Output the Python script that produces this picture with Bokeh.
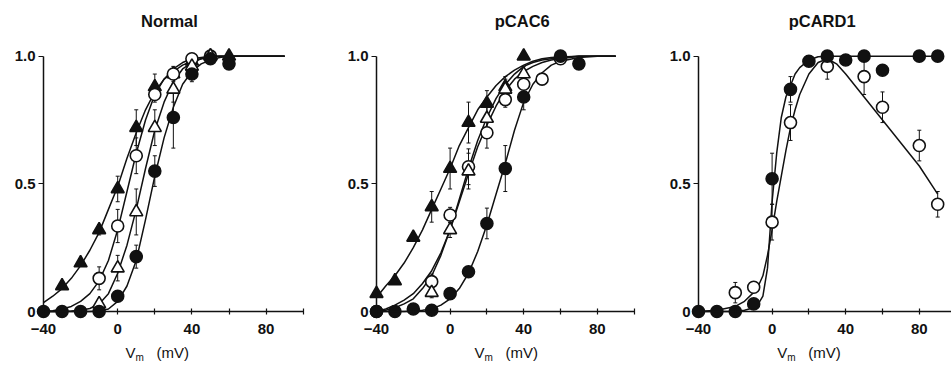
from bokeh.plotting import figure
from bokeh.layouts import row
from bokeh.models import ColumnDataSource, Whisker, TeeHead, FixedTicker, Label, Range1d
from bokeh.embed import file_html
from bokeh.resources import INLINE

FONT = "Liberation Sans"
INK = "#111111"

# ---------------- data ----------------
panel_titles = ["Normal", "pCAC6", "pCARD1"]
x_tick_labels = [-40, 0, 40, 80]
x_minor_ticks = [-20, 20, 60, 100]
y_tick_labels = {0: "0", 0.5: "0.5", 1: "1.0"}

# Panel 1: Normal
n_tri_f_x = [-30, -20, -10, 0, 10, 20, 30, 40, 50, 60]
n_tri_f_y = [0.10, 0.19, 0.32, 0.48, 0.72, 0.88, 0.93, 0.98, 1.0, 1.0]
n_tri_f_e = [0, 0, 0.02, 0.05, 0.07, 0.05, 0.03, 0.02, 0, 0]
n_circ_o_x = [-10, 0, 10, 20, 30, 40, 50]
n_circ_o_y = [0.13, 0.335, 0.61, 0.85, 0.93, 0.99, 1.0]
n_circ_o_e = [0.045, 0.065, 0.07, 0.03, 0.02, 0.01, 0]
n_tri_o_x = [-10, 0, 10, 20, 30, 40, 50]
n_tri_o_y = [0.03, 0.17, 0.39, 0.72, 0.87, 0.96, 1.0]
n_tri_o_e = [0.02, 0.05, 0.09, 0.07, 0.05, 0.02, 0]
n_circ_f_x = [-40, -30, -20, -10, 0, 10, 20, 30, 40, 50, 60]
n_circ_f_y = [0, 0, 0, 0, 0.06, 0.215, 0.55, 0.76, 0.93, 0.99, 0.97]
n_circ_f_e = [0, 0, 0, 0, 0.02, 0.045, 0.06, 0.12, 0.03, 0.01, 0.02]

fit_x = [-40, -35, -30, -25, -20, -15, -10, -5, 0, 5, 10, 15, 20, 25, 30, 35, 40, 45, 50, 55, 60, 70, 80, 90]
n_fit_tri_f = [0.035, 0.06, 0.09, 0.13, 0.18, 0.24, 0.31, 0.40, 0.49, 0.60, 0.70, 0.79, 0.86, 0.91, 0.94, 0.965, 0.98, 0.99, 0.995, 1.0, 1.0, 1.0, 1.0, 1.0]
n_fit_circ_o = [0.0, 0.003, 0.01, 0.02, 0.04, 0.07, 0.12, 0.20, 0.32, 0.47, 0.62, 0.75, 0.85, 0.91, 0.95, 0.975, 0.99, 0.995, 1.0, 1.0, 1.0, 1.0, 1.0, 1.0]
n_fit_tri_o = [0, 0, 0, 0.002, 0.005, 0.012, 0.03, 0.07, 0.15, 0.26, 0.40, 0.56, 0.71, 0.82, 0.90, 0.95, 0.975, 0.99, 1.0, 1.0, 1.0, 1.0, 1.0, 1.0]
n_fit_circ_f = [0, 0, 0, 0, 0, 0, 0.002, 0.01, 0.04, 0.10, 0.20, 0.36, 0.53, 0.68, 0.80, 0.89, 0.94, 0.97, 0.985, 0.995, 1.0, 1.0, 1.0, 1.0]

# Panel 2: pCAC6
c_tri_f_x = [-40, -30, -20, -10, 0, 10, 20, 30, 40]
c_tri_f_y = [0.07, 0.12, 0.29, 0.41, 0.56, 0.74, 0.815, 0.88, 1.0]
c_tri_f_e = [0, 0, 0, 0.06, 0.08, 0.08, 0.05, 0.04, 0]
c_circ_o_x = [-40, -10, 0, 10, 20, 30, 40, 50, 60]
c_circ_o_y = [0, 0.117, 0.378, 0.567, 0.70, 0.83, 0.89, 0.91, 0.99]
c_circ_o_e = [0, 0.03, 0.03, 0.07, 0.06, 0.03, 0.03, 0.02, 0]
c_tri_o_x = [-10, 0, 10, 20, 30, 40]
c_tri_o_y = [0.074, 0.32, 0.55, 0.756, 0.87, 0.93]
c_tri_o_e = [0.02, 0.03, 0.07, 0.07, 0.04, 0.03]
c_circ_f_x = [-40, -30, -20, -10, 0, 10, 20, 30, 40, 60, 70]
c_circ_f_y = [0, 0, 0.01, 0.005, 0.07, 0.156, 0.345, 0.56, 0.84, 1.0, 0.97]
c_circ_f_e = [0, 0, 0, 0, 0.01, 0.02, 0.06, 0.09, 0.05, 0, 0]

c_fit_tri_f = [0.055, 0.10, 0.14, 0.19, 0.25, 0.32, 0.40, 0.48, 0.56, 0.65, 0.72, 0.79, 0.84, 0.885, 0.92, 0.945, 0.965, 0.98, 0.99, 0.995, 0.997, 1.0, 1.0, 1.0]
c_fit_circ_o = [0.0, 0.01, 0.025, 0.045, 0.07, 0.11, 0.16, 0.23, 0.32, 0.43, 0.54, 0.645, 0.73, 0.805, 0.865, 0.91, 0.94, 0.96, 0.975, 0.985, 0.99, 1.0, 1.0, 1.0]
c_fit_tri_o = [0.0, 0.005, 0.015, 0.03, 0.05, 0.09, 0.14, 0.22, 0.32, 0.44, 0.56, 0.67, 0.76, 0.835, 0.89, 0.93, 0.96, 0.975, 0.985, 0.99, 0.995, 1.0, 1.0, 1.0]
c_fit_circ_f = [0, 0, 0, 0, 0.002, 0.005, 0.01, 0.025, 0.05, 0.09, 0.15, 0.235, 0.34, 0.46, 0.58, 0.71, 0.82, 0.89, 0.935, 0.965, 0.98, 0.995, 1.0, 1.0]

# Panel 3: pCARD1
d_circ_f_x = [-40, -30, -20, -10, 0, 10, 20, 30, 40, 50, 60, 80, 90]
d_circ_f_y = [0, 0, 0, 0.03, 0.52, 0.87, 0.98, 1.0, 0.985, 1.0, 0.945, 1.0, 1.0]
d_circ_f_e = [0, 0, 0, 0, 0.1, 0.05, 0, 0, 0, 0, 0, 0, 0]
d_circ_o_x = [-20, -10, 0, 10, 30, 50, 60, 80, 90]
d_circ_o_y = [0.074, 0.095, 0.35, 0.74, 0.96, 0.92, 0.80, 0.65, 0.42]
d_circ_o_e = [0.04, 0.02, 0.07, 0.07, 0.05, 0.07, 0.06, 0.06, 0.05]

d_fit_x = [-40, -30, -20, -15, -10, -7.5, -5, -2.5, 0, 2.5, 5, 7.5, 10, 12.5, 15, 20, 25, 30, 35, 40, 50, 60, 70, 80, 90]
d_fit_circ_f = [0, 0, 0.0, 0.005, 0.015, 0.03, 0.06, 0.17, 0.43, 0.62, 0.76, 0.84, 0.885, 0.93, 0.955, 0.985, 0.998, 1.0, 1.0, 1.0, 1.0, 1.0, 1.0, 1.0, 1.0]
d_fit_circ_o = [0, 0.005, 0.02, 0.04, 0.075, 0.10, 0.14, 0.22, 0.32, 0.43, 0.53, 0.63, 0.72, 0.79, 0.85, 0.93, 0.975, 0.99, 0.97, 0.93, 0.84, 0.75, 0.66, 0.57, 0.46]

Y_RANGE = (-0.223, 1.218)


def make_panel(title, title_x, xlab_x, x_start, x_end, width, points, fits):
    p = figure(width=width, height=368,
               min_border_left=0, min_border_right=0,
               min_border_top=0, min_border_bottom=0,
               x_range=Range1d(x_start, x_end), y_range=Range1d(*Y_RANGE),
               output_backend="svg", toolbar_location=None,
               background_fill_color="white", border_fill_color="white")
    p.outline_line_color = None
    p.grid.visible = False

    xa = p.xaxis[0]
    xa.fixed_location = 0
    xa.bounds = (-40, 100)
    xa.ticker = FixedTicker(ticks=x_tick_labels, minor_ticks=x_minor_ticks)
    xa.major_tick_in = 3
    xa.major_tick_out = 3
    xa.minor_tick_in = 3
    xa.minor_tick_out = 3
    xa.axis_line_width = 1.5
    xa.axis_line_color = INK
    xa.major_tick_line_color = INK
    xa.minor_tick_line_color = INK
    xa.major_tick_line_width = 1.2
    xa.minor_tick_line_width = 1.2
    xa.major_label_text_font = FONT
    xa.major_label_text_font_size = "15px"
    xa.major_label_text_font_style = "bold"
    xa.major_label_text_color = INK
    xa.major_label_standoff = 9

    ya = p.yaxis[0]
    ya.fixed_location = -40
    ya.bounds = (0, 1)
    ya.ticker = FixedTicker(ticks=[0, 0.5, 1.0], minor_ticks=[])
    ya.major_label_overrides = y_tick_labels
    ya.major_tick_in = 0
    ya.major_tick_out = 5
    ya.axis_line_width = 1.5
    ya.axis_line_color = INK
    ya.major_tick_line_color = INK
    ya.major_tick_line_width = 1.2
    ya.major_label_text_font = FONT
    ya.major_label_text_font_size = "15px"
    ya.major_label_text_font_style = "bold"
    ya.major_label_text_color = INK
    ya.major_label_standoff = 3

    for fx, fy in fits:
        p.line(fx, fy, line_color=INK, line_width=1.5)

    for marker, filled, xs, ys, es in points:
        src = ColumnDataSource(dict(x=xs, y=ys,
                                    upper=[a + b for a, b in zip(ys, es)],
                                    lower=[a - b for a, b in zip(ys, es)]))
        w = Whisker(source=src, base="x", upper="upper", lower="lower",
                    line_color=INK, line_width=1.0,
                    upper_head=TeeHead(size=4, line_color=INK, line_width=1.0),
                    lower_head=TeeHead(size=4, line_color=INK, line_width=1.0))
        p.add_layout(w)
        size = 12 if marker == "circle" else 13
        p.scatter("x", "y", source=src, marker=marker, size=size,
                  fill_color=INK if filled else "white",
                  line_color=INK, line_width=1.6)

    p.add_layout(Label(x=title_x, y=1.137, text=title, text_align="center",
                       text_baseline="middle", text_font=FONT,
                       text_font_size="16.5px", text_font_style="bold",
                       text_color=INK))
    # axis title: V with subscript m, then (mV)
    p.add_layout(Label(x=xlab_x, y=-0.16, text="V", text_align="left",
                       text_baseline="middle", text_font=FONT,
                       text_font_size="15px", text_color=INK))
    p.add_layout(Label(x=xlab_x, y=-0.16, x_offset=10, y_offset=-5, text="m",
                       text_align="left", text_baseline="middle", text_font=FONT,
                       text_font_size="10px", text_color=INK))
    p.add_layout(Label(x=xlab_x, y=-0.16, x_offset=31, text="(mV)",
                       text_align="left", text_baseline="middle", text_font=FONT,
                       text_font_size="15px", text_color=INK))
    return p


p1 = make_panel("Normal", 27.9, 4.2, -63.18, 116.33, 333,
                [("triangle", True, n_tri_f_x, n_tri_f_y, n_tri_f_e),
                 ("circle", False, n_circ_o_x, n_circ_o_y, n_circ_o_e),
                 ("triangle", False, n_tri_o_x, n_tri_o_y, n_tri_o_e),
                 ("circle", True, n_circ_f_x, n_circ_f_y, n_circ_f_e)],
                [(fit_x, n_fit_tri_f), (fit_x, n_fit_circ_o),
                 (fit_x, n_fit_tri_o), (fit_x, n_fit_circ_f)])

p2 = make_panel("pCAC6", 39.2, 13.3, -63.37, 111.63, 322,
                [("triangle", True, c_tri_f_x, c_tri_f_y, c_tri_f_e),
                 ("circle", False, c_circ_o_x, c_circ_o_y, c_circ_o_e),
                 ("triangle", False, c_tri_o_x, c_tri_o_y, c_tri_o_e),
                 ("circle", True, c_circ_f_x, c_circ_f_y, c_circ_f_e)],
                [(fit_x, c_fit_tri_f), (fit_x, c_fit_circ_o),
                 (fit_x, c_fit_tri_o), (fit_x, c_fit_circ_f)])

p3 = make_panel("pCARD1", 27.2, 2.8, -63.37, 97.5, 296,
                [("circle", False, d_circ_o_x, d_circ_o_y, d_circ_o_e),
                 ("circle", True, d_circ_f_x, d_circ_f_y, d_circ_f_e)],
                [(d_fit_x, d_fit_circ_f), (d_fit_x, d_fit_circ_o)])

layout = row(p1, p2, p3, spacing=0)
open("out.html", "w").write(file_html(layout, INLINE))
